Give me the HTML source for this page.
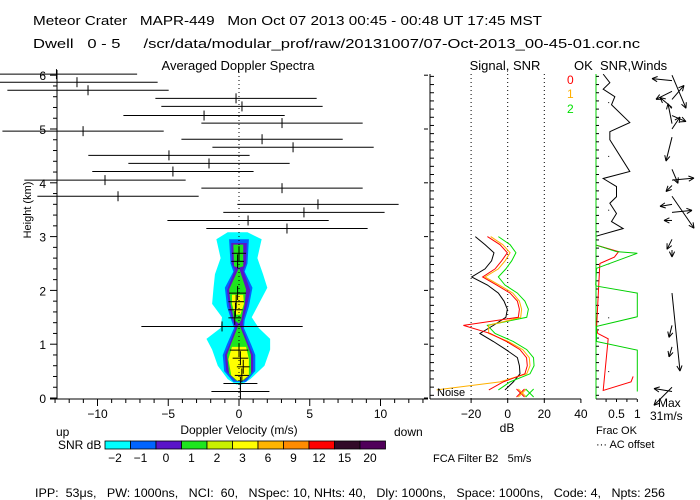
<!DOCTYPE html>
<html><head><meta charset="utf-8"><style>
html,body{margin:0;padding:0;background:#fff;}
svg{display:block;font-family:"Liberation Sans",sans-serif;}
text{font-size:13px;fill:#000;white-space:pre;}
</style></head><body>
<svg id="chart" width="700" height="500" viewBox="0 0 700 500" xmlns="http://www.w3.org/2000/svg" xml:space="preserve">
<text x="33" y="25" textLength="509" lengthAdjust="spacingAndGlyphs">Meteor Crater   MAPR-449   Mon Oct 07 2013 00:45 - 00:48 UT 17:45 MST</text>
<text x="33" y="48" textLength="607" lengthAdjust="spacingAndGlyphs">Dwell   0 - 5     /scr/data/modular_prof/raw/20131007/07-Oct-2013_00-45-01.cor.nc</text>
<text x="238" y="70" text-anchor="middle">Averaged Doppler Spectra</text>
<text x="505" y="70" text-anchor="middle">Signal, SNR</text>
<text x="574" y="70">OK  SNR,Winds</text>
<g id="g"></g>
<text transform="translate(31,210) rotate(-90)" text-anchor="middle" style="font-size:11px">Height (km)</text>
<text x="239" y="434" text-anchor="middle" style="font-size:12px">Doppler Velocity (m/s)</text>
<text x="56" y="436" style="font-size:12px">up</text>
<text x="394" y="436" style="font-size:12px">down</text>
<text x="58" y="449" style="font-size:12px">SNR dB</text>
<text x="507" y="432" text-anchor="middle" style="font-size:12px">dB</text>
<text x="437" y="396" style="font-size:11px">Noise</text>
<text x="596" y="434" style="font-size:11px">Frac OK</text>
<text x="596" y="448" style="font-size:11px">··· AC offset</text>
<text x="658" y="407" style="font-size:12px">Max</text>
<text x="650" y="420" style="font-size:12px">31m/s</text>
<text x="433" y="462" style="font-size:11px">FCA Filter B2   5m/s</text>
<text x="567" y="84" style="font-size:12px;fill:#ff0000">0</text>
<text x="567" y="98" style="font-size:12px;fill:#ffb000">1</text>
<text x="567" y="113" style="font-size:12px;fill:#00e000">2</text>
<text x="35" y="497" style="font-size:12px" textLength="630" lengthAdjust="spacingAndGlyphs">IPP:  53μs,   PW: 1000ns,   NCI:  60,   NSpec: 10, NHts: 40,   Dly: 1000ns,   Space: 1000ns,   Code: 4,   Npts: 256</text>
</svg>
<script>
// ---- data ----
const barH = [6.02,5.87,5.72,5.57,5.42,5.25,5.11,4.96,4.81,4.66,4.51,4.36,4.21,4.05,3.90,3.75,3.60,3.45,3.30,3.15,2.69,2.54,1.95,1.79,1.64,1.49,1.33,0.89,0.74,0.58,0.42,0.27,0.12];
const barC = [-12.9,-11.45,-10.67,-0.21,0.21,-2.47,3.04,-11.02,1.63,3.82,-4.95,-2.12,-4.67,-9.47,3.04,-8.55,5.58,4.59,0.64,3.39,0,-0.1,-0.1,-0.2,-0.25,-0.3,-1.2,0,0.1,0.3,0.2,0.1,0.1];
const barW = [5.7,5.7,5.7,5.7,5.7,5.7,5.7,5.7,5.7,5.7,5.7,5.7,5.7,5.7,5.7,5.7,5.7,5.7,5.7,5.7,0.5,0.45,0.6,0.55,0.5,0.45,5.7,0.65,0.55,0.45,0.5,1.2,2.05];
const levelColors = ['#00ffff','#0064ff','#5a14c8','#1ee61e','#c8f000','#ffff00'];
const cyanRows = [[3.08,-0.8,0.6],[2.95,-1.6,1.6],[2.6,-1.3,1.3],[2.3,-1.7,1.7],[2.05,-1.8,2.0],[1.75,-1.9,1.4],[1.5,-1.2,0.9],[1.3,-1.3,1.4],[1.1,-2.3,2.2],[0.9,-1.9,2.2],[0.6,-1.5,1.8],[0.35,-0.8,0.8],[0.25,-0.2,0.2]];
const blueRows = [[2.95,-0.7,0.7],[2.5,-0.6,0.6],[2.35,-0.4,0.4],[2.05,-1.0,0.95],[1.7,-0.85,0.7],[1.45,-0.55,0.4],[1.3,-0.35,0.35],[1.0,-0.85,0.85],[0.8,-1.15,1.15],[0.5,-1.05,1.15],[0.3,-0.4,0.5]];
const violetRows = [[2.88,-0.55,0.55],[2.5,-0.5,0.5],[2.38,-0.3,0.3],[2.0,-0.85,0.8],[1.7,-0.7,0.55],[1.45,-0.45,0.3],[1.3,-0.25,0.25],[0.98,-0.7,0.7],[0.8,-1.0,1.0],[0.5,-0.9,1.0],[0.32,-0.3,0.4]];
const greenRows = [[2.85,-0.4,0.3],[2.45,-0.35,0.3],[2.42,0,0],[2.02,-0.7,0.5],[1.75,-0.6,0.4],[1.45,-0.35,0.15],[1.38,0,0],[0.98,-0.6,0.6],[0.8,-0.85,0.85],[0.45,-0.7,0.85],[0.32,-0.2,0.3]];
const yellowRows1 = [[1.92,-0.5,0.3],[1.75,-0.5,0.35],[1.55,-0.3,0.1]];
const yellowRows2 = [[0.95,-0.5,0.5],[0.72,-0.75,0.7],[0.42,-0.55,0.7],[0.32,-0.1,0.2]];
const sigH = [3.0,2.85,2.7,2.55,2.4,2.25,2.1,1.95,1.8,1.65,1.5,1.35,1.2,1.05,0.9,0.75,0.6,0.45,0.3,0.15];
const sigBlack = [-17.7,-12.4,-7.5,-8.8,-12.4,-19.7,-11.1,-5.1,-2.0,-0.2,-1.0,-7.8,-15.2,-7.8,-1.0,5.3,6.4,6.7,3.1,-1.5];
const sigRed = [-11.1,-4.2,-0.2,-3.3,-6.9,-13.7,-6.0,1.3,5.3,6.4,5.8,-24.2,-9.6,-0.6,6.7,10.3,10.7,9.4,-2.4,-10.3];
const sigOrange = [-9.3,-2.7,1.3,-1.4,-5.1,-12.4,-4.6,2.8,6.4,7.6,7.1,-10.4,-10.4,0.3,8.2,11.8,12.2,10.4,-4.2,-38.8];
const sigGreen = [-5.1,1.3,4.5,2.2,-1.0,-5.1,-1.5,5.3,9.4,11.3,10.4,-11.1,-6.9,3.1,10.4,14.1,14.4,12.2,1.3,-5.1];
const noiseDb = [7,8,12];
const okH = [6.02,5.86,5.74,5.6,5.45,5.12,4.95,4.8,4.21,4.08,3.93,3.74,3.62,3.43,3.28,3.15,3.01];
const okFrac = [0.18,0.34,0.18,0.46,0.38,0.82,0.34,0.34,0.82,0.18,0.5,0.5,0.34,0.5,0.38,0.66,0.02];
const okGreenH = [2.84,2.72,2.69,2.41,2.1,2.08,1.95,1.51,1.33,1.05,0.89,0.12];
const okGreenF = [0.02,0.5,1.0,0.02,0.0,0.02,1.0,1.0,0.02,0.02,1.0,1.0];
const okRedH = [2.84,2.72,2.62,2.5,1.3,1.2,1.1,0.14,0.3,0.4];
const okRedF = [0.02,0.55,0.45,0.1,0.02,0.05,0.3,0.18,0.85,0.9];
const windH = [6.0,5.9,5.7,5.55,5.4,5.25,5.1,5.0,4.85,4.25,4.05,3.95,3.75,3.6,3.45,3.3,2.95,2.75,1.95,1.35,0.95,0.2,0.12];
const windU = [14,-20,-16,12,-12,14,-4,8,-6,6,22,-6,22,-12,20,-8,-5,0,8,-3,-3,-18,-18];
const windV = [-33,2,-8,14,10,-6,20,12,-24,-14,2,-6,-32,-2,2,0,-10,-7,-78,-12,-10,-18,3];
const cbLabels = ['-2','-1','0','1','2','3','6','9','12','15','20'];
const cbColors = ['#00ffff','#0064ff','#5a14c8','#1ee61e','#c8f000','#ffff00','#ffb400','#ff8c00','#ff0000','#320a28','#50005a'];
const xTicks = [-10,-5,0,5,10];
const yTicks = [0,1,2,3,4,5,6];
const dbTicks = [-20,0,20,40];

// ---- scales ----
const yH = h => 398 - 53.8*h;
const xV = v => 239 + 14.15*v;
const xDb = d => 507.7 + 1.83*d;
const xF = f => 595.7 + 41.6*f;
const NS='http://www.w3.org/2000/svg';
const G=document.getElementById('g');
function mk(tag, at, parent){const e=document.createElementNS(NS,tag);for(const k in at)e.setAttribute(k,at[k]);(parent||G).appendChild(e);return e;}
function line(x1,y1,x2,y2,st,w,da){return mk('line',{x1,y1,x2,y2,stroke:st||'#000','stroke-width':w||1,'stroke-dasharray':da||'none'});}

function blob(rows,color,name){
  const left=rows.map(r=>xV(r[1])+','+yH(r[0]));
  const right=rows.slice().reverse().map(r=>xV(r[2])+','+yH(r[0]));
  const p=mk('polygon',{points:left.concat(right).join(' '),fill:color});
  
  
}
blob(cyanRows,levelColors[0],'snr-contour-cyan');
blob(blueRows,levelColors[1],'snr-contour-blue');
blob(violetRows,levelColors[2],'snr-contour-violet');
blob(greenRows,levelColors[3],'snr-contour-green');
blob(yellowRows1,levelColors[5],'snr-contour-yellow-upper');
blob(yellowRows2,levelColors[5],'snr-contour-yellow-lower');

line(xV(0),72,xV(0),399,'#000',1,'1 3');
barH.forEach((h,i)=>{
  const y=yH(h);
  const l=line(Math.max(0,xV(barC[i]-barW[i])),y,xV(barC[i]+barW[i]),y);
  
  
  const t=barW[i]<3?7:5;
  const v=line(xV(barC[i]),y-t,xV(barC[i]),y+t);
  
  
});
line(57,70,57,399);line(50,399,428,399);
for(let v=-13;v<=13;v++){line(xV(v),399,xV(v),v%5===0?406:403);}
xTicks.forEach(v=>{const t=mk('text',{x:xV(v),y:418,'text-anchor':'middle',style:'font-size:12px'});t.textContent=(v<0?'−':'')+Math.abs(v);
});
for(let h=0;h<=6.1;h+=0.2){line(h%1<0.05||h%1>0.95?50:53,yH(h),57,yH(h));}
yTicks.forEach(h=>{const t=mk('text',{x:46,y:yH(h)+5,'text-anchor':'end',style:'font-size:12px'});t.textContent=h;

line(424,yH(h),428,yH(h));});

line(430,74,430,399);line(430,399,581,399);
for(let h=0.05;h<=6.1;h+=0.152){line(430,yH(h),434,yH(h));}
[-20,0,20].forEach(d=>line(xDb(d),74,xDb(d),399,'#000',1,'1 3'));
dbTicks.forEach(d=>{line(xDb(d),399,xDb(d),403);const t=mk('text',{x:xDb(d),y:418,'text-anchor':'middle',style:'font-size:12px'});t.textContent=(d<0?'−':'')+Math.abs(d);
});
function series(vals,color,name){
  const p=mk('polyline',{points:vals.map((d,i)=>xDb(d)+','+yH(sigH[i])).join(' '),fill:'none',stroke:color,'stroke-width':1});
  
  
}
series(sigBlack,'#000','signal-line');
series(sigGreen,'#00e000','snr-line-2');
series(sigOrange,'#ffb000','snr-line-1');
series(sigRed,'#ff0000','snr-line-0');
['#ff0000','#ffb000','#00e000'].forEach((c,i)=>{
  const x=xDb(noiseDb[i]),y=393;
  const g=mk('g',{stroke:c});
  
  
  mk('line',{x1:x-4,y1:y-4,x2:x+4,y2:y+4},g);mk('line',{x1:x-4,y1:y+4,x2:x+4,y2:y-4},g);
});

line(596,74,596,399,'#00d000');line(596,399,637,399);
for(let h=0.05;h<=6.1;h+=0.152){line(596,yH(h),599,yH(h));}
[0.25,0.5,0.75,1].forEach(f=>line(xF(f),399,xF(f),402));
[['0.5',0.5],['1',1]].forEach(a=>{const t=mk('text',{x:xF(a[1]),y:418,'text-anchor':'middle',style:'font-size:12px'});t.textContent=a[0];
});
for(let h=0.5;h<=6;h+=1){mk('rect',{x:xF(0.3),y:yH(h),width:1,height:1,fill:'#000'});}
const okp=mk('polyline',{points:okH.map((h,i)=>xF(okFrac[i])+','+yH(h)).join(' '),fill:'none',stroke:'#000'});


const okr=mk('polyline',{points:okRedH.map((h,i)=>xF(okRedF[i])+','+yH(h)).join(' '),fill:'none',stroke:'#ff0000'});


const okg=mk('polyline',{points:okGreenH.map((h,i)=>xF(okGreenF[i])+','+yH(h)).join(' '),fill:'none',stroke:'#00d000'});



windH.forEach((h,i)=>{
  const x1=672,y1=yH(h),x2=x1+windU[i],y2=y1-windV[i];
  const g=mk('g',{stroke:'#000'});
  
  
  mk('line',{x1,y1,x2,y2},g);
  const a=Math.atan2(y2-y1,x2-x1);
  [0.45,-0.45].forEach(d=>mk('line',{x1:x2,y1:y2,x2:x2-6*Math.cos(a+d),y2:y2-6*Math.sin(a+d)},g));
});

const cbX=105,cbW=25.5;
cbColors.forEach((c,i)=>{
  const r=mk('rect',{x:cbX+i*cbW,y:441,width:cbW,height:8,fill:c,stroke:'#000','stroke-width':0.8});
  
  
  const t=mk('text',{x:cbX+i*cbW+10,y:462,'text-anchor':'middle',style:'font-size:12px'});
  t.textContent=cbLabels[i].replace('-','−');
  
  
});
</script>
</body></html>
